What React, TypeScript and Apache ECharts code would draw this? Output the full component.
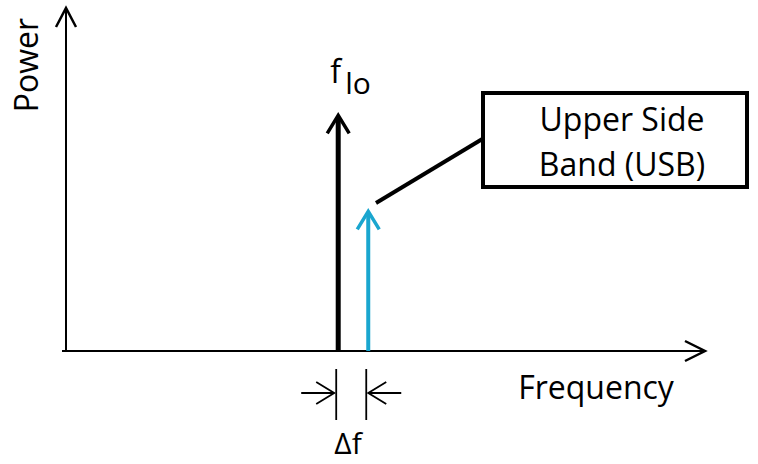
import React, { useEffect, useRef } from "react";
import * as echarts from "echarts";

// Spectral lines: frequency position (0..100 axis units) and power (0..100)
const lineNames = ["f_lo", "USB"];
const frequencies = [42.6, 47.3];
const powers = [69, 41];
const lineColors = ["#000000", "#1aa6cf"];

const axisNames = ["Frequency", "Power"];
const boxLines = ["Upper Side", "Band (USB)"];
const deltaLabel = "Δf";

const FONT = "'Open Sans', 'Noto Sans', sans-serif";

export default function App() {
  const ref = useRef<HTMLDivElement>(null);
  useEffect(() => {
    document.body.style.margin = "0";
    if (!ref.current) return;
    const chart = echarts.init(ref.current, null, { renderer: "svg" });
    const data = frequencies.map((f, i) => [f, powers[i]]);
    chart.setOption({
      animation: false,
      backgroundColor: "#ffffff",
      grid: { left: 66, right: 53, top: 8, bottom: 113 },
      xAxis: {
        type: "value",
        min: 0,
        max: 100,
        axisLine: { show: true, lineStyle: { color: "#000", width: 2 } },
        axisTick: { show: false },
        axisLabel: { show: false },
        splitLine: { show: false },
      },
      yAxis: {
        type: "value",
        min: 0,
        max: 100,
        axisLine: { show: true, onZero: false, lineStyle: { color: "#000", width: 2 } },
        axisTick: { show: false },
        axisLabel: { show: false },
        splitLine: { show: false },
      },
      series: [
        {
          type: "custom",
          name: "spectrum",
          data,
          z: 5,
          renderItem: (params: any, api: any) => {
            const i = params.dataIndex;
            const base = api.coord([api.value(0), 0]);
            const top = api.coord([api.value(0), api.value(1)]);
            const color = lineColors[i];
            const x = top[0];
            const children: any[] = [
              {
                type: "line",
                shape: { x1: x, y1: base[1], x2: x, y2: top[1] + 3 },
                style: { stroke: color, lineWidth: i === 0 ? 5 : 4 },
              },
              {
                type: "polyline",
                shape: {
                  points: [
                    [x - 11, top[1] + 19],
                    [x, top[1] + 1],
                    [x + 11, top[1] + 19],
                  ],
                },
                style: { stroke: color, lineWidth: 3.5, fill: null },
              },
              // dimension tick
              {
                type: "line",
                shape: { x1: x - 2, y1: base[1] + 18, x2: x - 2, y2: base[1] + 69 },
                style: { stroke: "#000", lineWidth: 1.8 },
              },
            ];
            const ay = base[1] + 42;
            if (i === 0) {
              const tip = x - 4;
              children.push(
                {
                  type: "line",
                  shape: { x1: tip - 33, y1: ay, x2: tip, y2: ay },
                  style: { stroke: "#000", lineWidth: 1.8 },
                },
                {
                  type: "polyline",
                  shape: { points: [[tip - 18, ay - 11], [tip, ay], [tip - 18, ay + 11]] },
                  style: { stroke: "#000", lineWidth: 1.8, fill: null },
                },
                {
                  type: "text",
                  style: {
                    text: "f",
                    x: x - 8,
                    y: top[1] - 44,
                    fontSize: 32,
                    fontFamily: FONT,
                    fill: "#000",
                    verticalAlign: "middle",
                    align: "left",
                  },
                },
                {
                  type: "text",
                  style: {
                    text: "lo",
                    x: x + 7,
                    y: top[1] - 32,
                    fontSize: 30,
                    fontFamily: FONT,
                    fill: "#000",
                    verticalAlign: "middle",
                    align: "left",
                  },
                }
              );
            } else {
              const tip = x;
              children.push(
                {
                  type: "line",
                  shape: { x1: tip, y1: ay, x2: tip + 33, y2: ay },
                  style: { stroke: "#000", lineWidth: 1.8 },
                },
                {
                  type: "polyline",
                  shape: { points: [[tip + 18, ay - 11], [tip, ay], [tip + 18, ay + 11]] },
                  style: { stroke: "#000", lineWidth: 1.8, fill: null },
                }
              );
            }
            return { type: "group", children };
          },
        },
      ],
      graphic: [
        // axis arrowheads
        {
          type: "polyline",
          shape: { points: [[56, 27], [66, 8], [76, 27]] },
          style: { stroke: "#000", lineWidth: 2.5, fill: null },
        },
        {
          type: "polyline",
          shape: { points: [[685, 341], [705, 351], [685, 361]] },
          style: { stroke: "#000", lineWidth: 2.5, fill: null },
        },
        {
          type: "line",
          shape: { x1: 62, y1: 351, x2: 67, y2: 351 },
          style: { stroke: "#000", lineWidth: 2 },
        },
        // axis names
        {
          type: "text",
          x: 25,
          y: 65,
          rotation: Math.PI / 2,
          style: {
            text: axisNames[1],
            fontSize: 32,
            fontFamily: FONT,
            fill: "#000",
            align: "center",
            verticalAlign: "middle",
          },
        },
        {
          type: "text",
          x: 596,
          y: 386,
          style: {
            text: axisNames[0],
            fontSize: 32,
            fontFamily: FONT,
            fill: "#000",
            align: "center",
            verticalAlign: "middle",
          },
        },
        {
          type: "text",
          x: 348,
          y: 442,
          style: {
            text: deltaLabel,
            fontSize: 30,
            lineHeight: 32,
            fontFamily: FONT,
            fill: "#000",
            align: "center",
            verticalAlign: "middle",
          },
        },
        // callout
        {
          type: "line",
          shape: { x1: 376, y1: 203, x2: 484, y2: 138 },
          style: { stroke: "#000", lineWidth: 4 },
        },
        {
          type: "rect",
          shape: { x: 483, y: 93, width: 264, height: 94 },
          style: { stroke: "#000", lineWidth: 4, fill: "#fff" },
        },
        {
          type: "text",
          x: 622,
          y: 118,
          style: {
            text: boxLines[0],
            fontSize: 32,
            fontFamily: FONT,
            fill: "#000",
            align: "center",
            verticalAlign: "middle",
          },
        },
        {
          type: "text",
          x: 622,
          y: 163,
          style: {
            text: boxLines[1],
            fontSize: 32,
            fontFamily: FONT,
            fill: "#000",
            align: "center",
            verticalAlign: "middle",
          },
        },
      ],
    });
    return () => chart.dispose();
  }, []);
  return <div ref={ref} style={{ width: 758, height: 464 }} />;
}
